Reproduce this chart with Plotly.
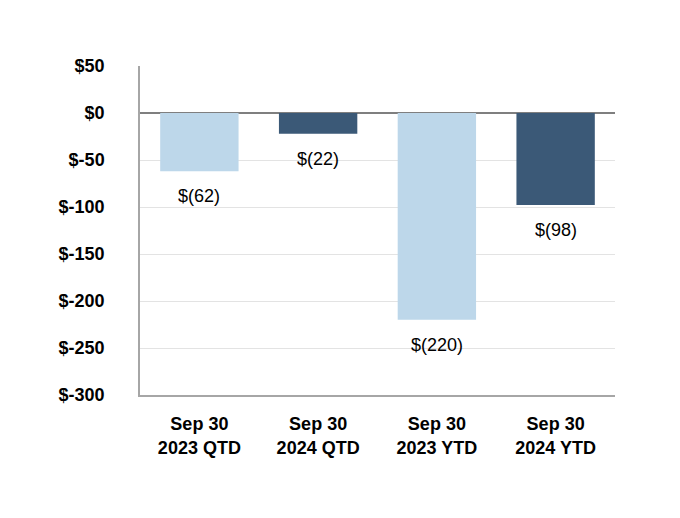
import plotly.graph_objects as go

categories = ["Sep 30<br>2023 QTD", "Sep 30<br>2024 QTD", "Sep 30<br>2023 YTD", "Sep 30<br>2024 YTD"]
values = [-62, -22, -220, -98]
labels = ["$(62)", "$(22)", "$(220)", "$(98)"]
colors = ["#BDD7EA", "#3B5977", "#BDD7EA", "#3B5977"]
tick_vals = [50, 0, -50, -100, -150, -200, -250, -300]
tick_text = ["$50", "$0", "$-50", "$-100", "$-150", "$-200", "$-250", "$-300"]

fig = go.Figure()
fig.add_trace(go.Bar(x=categories, y=values, marker=dict(color=colors, line=dict(width=0)),
                     hoverinfo="skip"))

for c, v, t in zip(categories, values, labels):
    fig.add_annotation(x=c, y=v, text=t, showarrow=False, yanchor="middle",
                       yshift=-25, font=dict(family="Liberation Sans, Arial", size=18, color="#000000"))

fig.update_layout(
    width=680, height=518,
    margin=dict(l=132, r=73, t=58, b=131),
    paper_bgcolor="white", plot_bgcolor="white",
    showlegend=False, bargap=0.34,
    font=dict(family="Liberation Sans, Arial", color="#000000"),
)
fig.update_yaxes(range=[-300, 50], tickvals=tick_vals, ticktext=tick_text,
                 tickfont=dict(size=18, family="Liberation Sans, Arial", weight="bold"),
                 showgrid=True, gridcolor="#E3E3E3", gridwidth=1,
                 zeroline=True, zerolinecolor="#7F7F7F", zerolinewidth=1.5,
                 showline=True, linecolor="#A6A6A6", linewidth=1.5,
                 ticks="", ticklabelstandoff=30)
fig.update_xaxes(tickfont=dict(size=18, family="Liberation Sans, Arial", weight="bold"),
                 showline=True, linecolor="#A6A6A6", linewidth=1.5,
                 ticks="", ticklabelstandoff=12)

fig.write_html("out.html")
